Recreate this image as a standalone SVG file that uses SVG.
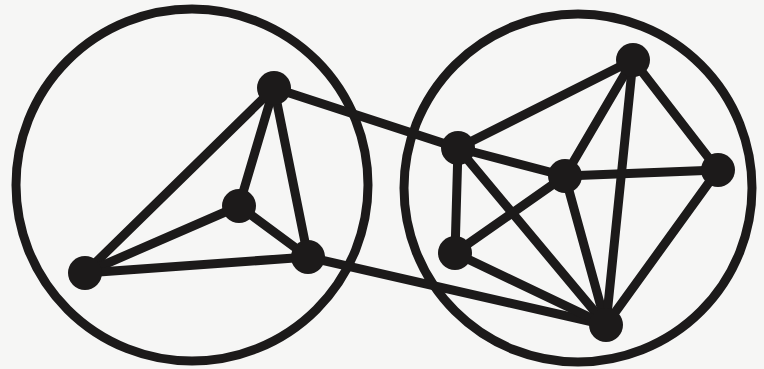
<svg xmlns="http://www.w3.org/2000/svg" width="764" height="369" viewBox="0 0 764 369">
<style>
.ring{fill:none;stroke:#1c1a1a;stroke-width:9}
.e{stroke:#1c1a1a;stroke-width:9;stroke-linecap:round}
.n{fill:#1c1a1a}
</style>
<rect width="764" height="369" fill="#f6f6f5"/>
<g id="clusters">
<circle class="ring" cx="192" cy="185" r="176"/>
<circle class="ring" cx="578" cy="188" r="174"/>
</g>
<g id="connectors">
<line class="e" x1="274" y1="88" x2="85" y2="273"/>
<line class="e" x1="274" y1="88" x2="239" y2="206"/>
<line class="e" x1="274" y1="88" x2="308" y2="257"/>
<line class="e" x1="239" y1="206" x2="85" y2="273"/>
<line class="e" x1="239" y1="206" x2="308" y2="257"/>
<line class="e" x1="308" y1="257" x2="85" y2="273"/>
<line class="e" x1="274" y1="88" x2="458" y2="148"/>
<line class="e" x1="308" y1="257" x2="606" y2="325"/>
<line class="e" x1="458" y1="148" x2="633" y2="60"/>
<line class="e" x1="458" y1="148" x2="565" y2="176"/>
<line class="e" x1="458" y1="148" x2="455" y2="253"/>
<line class="e" x1="458" y1="148" x2="606" y2="325"/>
<line class="e" x1="455" y1="253" x2="565" y2="176"/>
<line class="e" x1="455" y1="253" x2="606" y2="325"/>
<line class="e" x1="565" y1="176" x2="633" y2="60"/>
<line class="e" x1="565" y1="176" x2="718" y2="170"/>
<line class="e" x1="565" y1="176" x2="606" y2="325"/>
<line class="e" x1="633" y1="60" x2="718" y2="170"/>
<line class="e" x1="633" y1="60" x2="606" y2="325"/>
<line class="e" x1="718" y1="170" x2="606" y2="325"/>
</g>
<g id="nA"><circle class="n" cx="274" cy="88" r="17"/></g>
<g id="nB"><circle class="n" cx="239" cy="206" r="17"/></g>
<g id="nC"><circle class="n" cx="308" cy="257" r="17"/></g>
<g id="nD"><circle class="n" cx="85" cy="273" r="17"/></g>
<g id="nE"><circle class="n" cx="458" cy="148" r="17"/></g>
<g id="nF"><circle class="n" cx="633" cy="60" r="17"/></g>
<g id="nG"><circle class="n" cx="565" cy="176" r="17"/></g>
<g id="nH"><circle class="n" cx="718" cy="170" r="17"/></g>
<g id="nI"><circle class="n" cx="455" cy="253" r="17"/></g>
<g id="nJ"><circle class="n" cx="606" cy="325" r="17"/></g>
</svg>
